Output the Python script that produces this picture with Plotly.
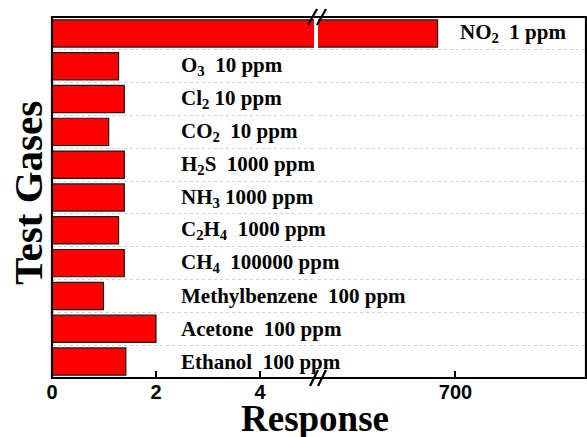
import plotly.graph_objects as go

# ---- data ----
gases = ["NO2", "O3", "Cl2", "CO2", "H2S", "NH3", "C2H4", "CH4",
         "Methylbenzene", "Acetone", "Ethanol"]
responses = [687, 1.28, 1.39, 1.09, 1.39, 1.39, 1.28, 1.39, 0.99, 2.0, 1.42]
labels = ["NO<sub>2</sub>\u00a0 1 ppm", "O<sub>3</sub>\u00a0 10 ppm",
          "Cl<sub>2</sub> 10 ppm", "CO<sub>2</sub>\u00a0 10 ppm",
          "H<sub>2</sub>S\u00a0 1000 ppm", "NH<sub>3</sub> 1000 ppm",
          "C<sub>2</sub>H<sub>4</sub>\u00a0 1000 ppm", "CH<sub>4</sub>\u00a0 100000 ppm",
          "Methylbenzene\u00a0 100 ppm", "Acetone\u00a0 100 ppm", "Ethanol\u00a0 100 ppm"]
left_ticks = [0, 2, 4]
right_ticks = [700]

# ---- layout geometry (pixels) ----
W, H = 587, 437
L, R, T, B = 52, 586, 17, 378
PW, PH = R - L, B - T


def pp(x, y):
    return (x - L) / PW, (B - y) / PH


d1 = pp(314, 0)[0]
d2 = pp(318, 0)[0]

serif = "Liberation Serif, Times New Roman, serif"
sans = "Liberation Sans, Arial, sans-serif"

fig = go.Figure()
for xa, ya in (("x", "y"), ("x2", "y2")):
    fig.add_trace(go.Bar(
        x=responses, y=gases, orientation="h", xaxis=xa, yaxis=ya,
        width=0.83, marker=dict(color="#ff0000", line=dict(color="#1a1a1a", width=1.2)),
        showlegend=False, hoverinfo="x+y"))

# labels
lab_font = dict(family=serif, size=21, color="black", weight="bold")
for g, lab in zip(gases, labels):
    if g == "NO2":
        fig.add_annotation(x=702, y=g, xref="x2", yref="y", text=lab,
                           xanchor="left", yanchor="middle", showarrow=False,
                           font=lab_font)
    else:
        fig.add_annotation(x=2.44, y=g, xref="x", yref="y", text=lab,
                           xanchor="left", yanchor="middle", showarrow=False,
                           font=lab_font)

tickfont = dict(family=sans, size=20, color="black", weight="bold")
common_x = dict(showgrid=False, zeroline=False, showline=False, ticks="inside",
                ticklen=7, tickwidth=2, tickcolor="black", tickfont=tickfont,
                fixedrange=True)
common_y = dict(autorange="reversed", showgrid=True, gridcolor="#cfcfcf",
                griddash="dot", gridwidth=1, tickson="boundaries",
                showticklabels=False, ticks="", zeroline=False, showline=False)

shapes = [dict(type="rect", xref="paper", yref="paper", x0=0, y0=0, x1=1, y1=1,
               line=dict(color="black", width=2.2), layer="above")]
for (xa, ya, xb, yb) in [(308, 25, 317, 9), (317, 25, 326, 9),
                         (310, 386, 318, 370), (318, 386, 326, 370)]:
    p0 = pp(xa, ya)
    p1 = pp(xb, yb)
    shapes.append(dict(type="line", xref="paper", yref="paper",
                       x0=p0[0], y0=p0[1], x1=p1[0], y1=p1[1],
                       line=dict(color="black", width=2.2), layer="above"))

annots_titles = [
    dict(text="Response", x=pp(315, 0)[0], y=pp(0, 418)[1], xref="paper", yref="paper",
         xanchor="center", yanchor="middle", showarrow=False,
         font=dict(family=serif, size=37, color="black", weight="bold")),
    dict(text="Test Gases", x=pp(28, 0)[0], y=pp(0, 193)[1], xref="paper", yref="paper",
         xanchor="center", yanchor="middle", showarrow=False, textangle=-90,
         font=dict(family=serif, size=41, color="black", weight="bold")),
]
for a in annots_titles:
    fig.add_annotation(**a)

fig.update_layout(
    width=W, height=H,
    margin=dict(l=L, r=W - R, t=T, b=H - B),
    paper_bgcolor="white", plot_bgcolor="white",
    bargap=0.17,
    xaxis=dict(domain=[0, d1], range=[0, (314 - L) / 52.0], tickvals=left_ticks, **common_x),
    xaxis2=dict(domain=[d2, 1], range=[600, 795], tickvals=right_ticks, anchor="y2", **common_x),
    yaxis=dict(anchor="x", **common_y),
    yaxis2=dict(anchor="x2", matches="y", **common_y),
    shapes=shapes,
)

fig.write_html("out.html")
